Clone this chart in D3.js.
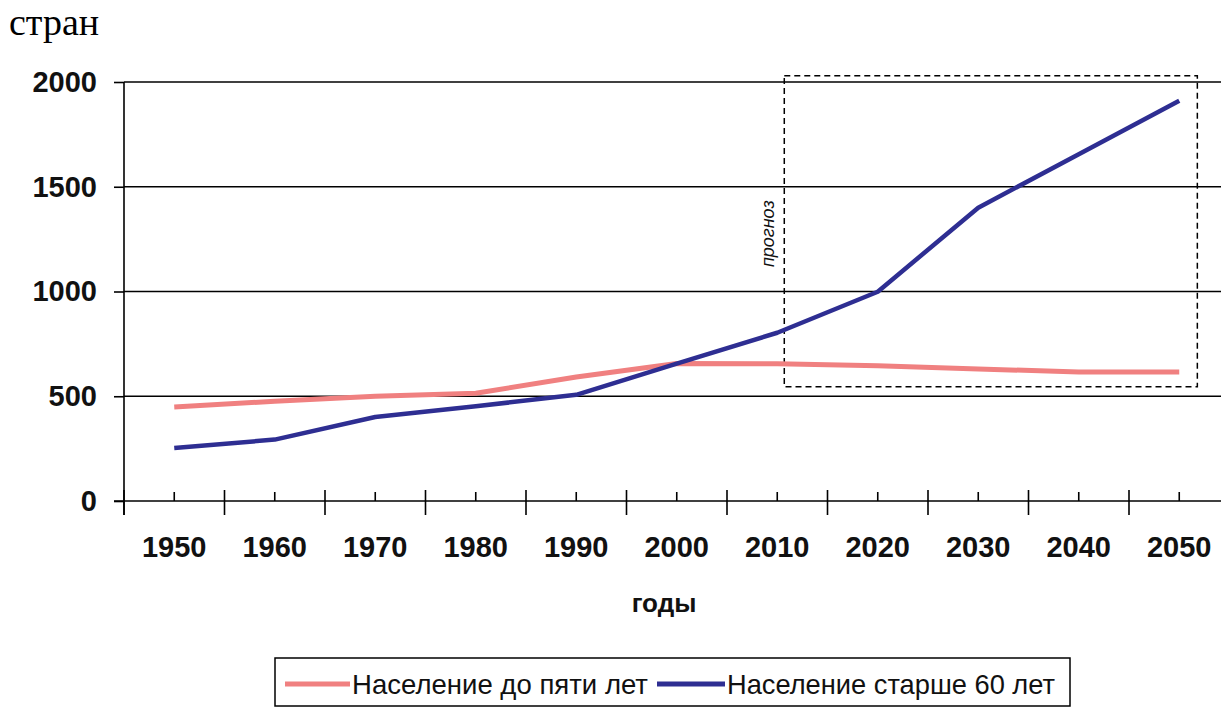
<!DOCTYPE html>
<html>
<head>
<meta charset="utf-8">
<script src="https://cdn.jsdelivr.net/npm/d3@7"></script>
<style>
  html, body { margin: 0; padding: 0; background: #fff; overflow: hidden; }
  svg { display: block; }
</style>
</head>
<body>
<svg id="chart" width="1221" height="708"></svg>
<script>
// ---- data ----
const years = ["1950","1960","1970","1980","1990","2000","2010","2020","2030","2040","2050"];
const under5 = [449, 476, 500, 514, 592, 656, 655, 645, 630, 616, 616];
const over60 = [253, 293, 401, 452, 507, 656, 803, 999, 1400, 1655, 1910];
const yTicks = [0, 500, 1000, 1500, 2000];
const seriesNames = ["Население до пяти лет", "Население старше 60 лет"];
const seriesColors = ["#F08080", "#2E2E92"];
const titleText = "стран";
const xTitle = "годы";
const forecastLabel = "прогноз";

// ---- layout ----
const W = 1221, H = 708;
const left = 124, bandW = 100.5;
const svg = d3.select("#chart");

const x = d3.scaleBand().domain(years).range([left, left + bandW * years.length]).paddingInner(0).paddingOuter(0);
const xc = d => x(d) + x.bandwidth() / 2;
const xYear = d3.scaleLinear().domain([1950, 2050]).range([xc("1950"), xc("2050")]);
const y = d3.scaleLinear().domain([0, 2000]).range([501, 82]);

// title
svg.append("text").attr("x", 9).attr("y", 35)
  .attr("font-family", "'Liberation Serif', 'Times New Roman', serif")
  .attr("font-size", 38).attr("fill", "#000").text(titleText);

// gridlines
svg.append("g").selectAll("line").data(yTicks.filter(v => v > 0)).join("line")
  .attr("x1", left).attr("x2", W).attr("y1", d => y(d)).attr("y2", d => y(d))
  .attr("stroke", "#000").attr("stroke-width", 1.6);

// y axis
const yAxis = svg.append("g").attr("transform", `translate(${left},0)`)
  .call(d3.axisLeft(y).tickValues(yTicks).tickSize(10).tickPadding(17).tickFormat(d3.format("d")));
yAxis.select(".domain").remove();
yAxis.selectAll(".tick line").attr("stroke", "#000").attr("stroke-width", 1.6);
yAxis.selectAll(".tick text")
  .attr("font-family", "'Liberation Sans', Arial, sans-serif")
  .attr("font-weight", "bold").attr("font-size", 29).attr("fill", "#111");
svg.append("line").attr("x1", left).attr("x2", left).attr("y1", y(2000)).attr("y2", y(0) + 14)
  .attr("stroke", "#000").attr("stroke-width", 1.6);

// x axis line
svg.append("line").attr("x1", left - 10).attr("x2", W).attr("y1", y(0)).attr("y2", y(0))
  .attr("stroke", "#000").attr("stroke-width", 1.6);
// major ticks at band boundaries
const bounds = years.map(d => x(d)).concat([x(years[years.length - 1]) + x.bandwidth()]);
svg.append("g").selectAll("line").data(bounds).join("line")
  .attr("x1", d => d).attr("x2", d => d).attr("y1", y(0) - 11).attr("y2", y(0) + 14)
  .attr("stroke", "#000").attr("stroke-width", 1.6);
// minor ticks at centers
svg.append("g").selectAll("line").data(years).join("line")
  .attr("x1", d => xc(d)).attr("x2", d => xc(d)).attr("y1", y(0) - 9).attr("y2", y(0))
  .attr("stroke", "#000").attr("stroke-width", 1.6);
// x labels
svg.append("g").selectAll("text").data(years).join("text")
  .attr("x", d => xc(d)).attr("y", 557).attr("text-anchor", "middle")
  .attr("font-family", "'Liberation Sans', Arial, sans-serif")
  .attr("font-weight", "bold").attr("font-size", 29).attr("fill", "#111").text(d => d);
// x title
svg.append("text").attr("x", 664).attr("y", 612).attr("text-anchor", "middle")
  .attr("font-family", "'Liberation Sans', Arial, sans-serif")
  .attr("font-weight", "bold").attr("font-size", 26).attr("fill", "#111").text(xTitle);

// forecast box
svg.append("rect")
  .attr("x", xYear(2010.7)).attr("y", y(2030))
  .attr("width", xYear(2051.8) - xYear(2010.7)).attr("height", y(545) - y(2030))
  .attr("fill", "none").attr("stroke", "#000").attr("stroke-width", 1.5)
  .attr("stroke-dasharray", "6,4");
svg.append("text")
  .attr("transform", `translate(${xYear(2009.7)},${y(1276)}) rotate(-90)`)
  .attr("text-anchor", "middle")
  .attr("font-family", "'Liberation Sans', Arial, sans-serif")
  .attr("font-style", "italic").attr("font-size", 18).attr("fill", "#111").text(forecastLabel);

// series lines
const line = d3.line().x((d, i) => xc(years[i])).y(d => y(d));
svg.append("path").datum(under5).attr("d", line)
  .attr("fill", "none").attr("stroke", seriesColors[0]).attr("stroke-width", 5).attr("stroke-linejoin", "round");
svg.append("path").datum(over60).attr("d", line)
  .attr("fill", "none").attr("stroke", seriesColors[1]).attr("stroke-width", 4.5).attr("stroke-linejoin", "round");

// legend
const lg = svg.append("g");
lg.append("rect").attr("x", 275).attr("y", 658).attr("width", 795).attr("height", 48)
  .attr("fill", "#fff").attr("stroke", "#000").attr("stroke-width", 1.5);
const legendItems = [
  {name: seriesNames[0], color: seriesColors[0], x1: 285, x2: 350, tx: 352, tl: 296},
  {name: seriesNames[1], color: seriesColors[1], x1: 657, x2: 725, tx: 727, tl: 328}
];
legendItems.forEach(it => {
  lg.append("line").attr("x1", it.x1).attr("x2", it.x2).attr("y1", 684).attr("y2", 684)
    .attr("stroke", it.color).attr("stroke-width", 5);
  lg.append("text").attr("x", it.tx).attr("y", 694)
    .attr("font-family", "'Liberation Sans Narrow', 'Liberation Sans', Arial, sans-serif")
    .attr("font-size", 28).attr("fill", "#111")
    .attr("textLength", it.tl).attr("lengthAdjust", "spacingAndGlyphs")
    .text(it.name);
});
</script>
</body>
</html>
